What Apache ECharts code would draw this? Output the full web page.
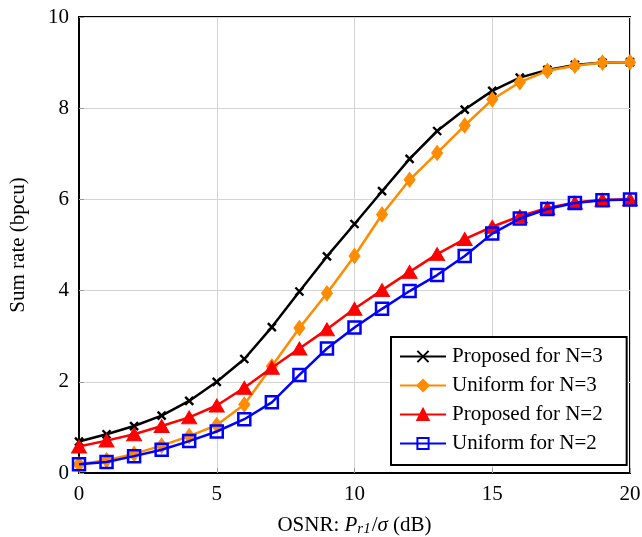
<!DOCTYPE html>
<html><head><meta charset="utf-8">
<script src="https://cdn.jsdelivr.net/npm/echarts@6/dist/echarts.min.js"></script>
<style>html,body{margin:0;padding:0;background:#fff}#c{width:642px;height:537px}</style>
</head><body><div id="c"></div>
<script>
const xVals = [0,1,2,3,4,5,6,7,8,9,10,11,12,13,14,15,16,17,18,19,20];
const proposedN3 = [0.69,0.85,1.03,1.26,1.58,2.0,2.5,3.2,3.98,4.75,5.46,6.18,6.89,7.5,7.97,8.38,8.67,8.84,8.95,9.0,9.01];
const uniformN3 = [0.19,0.28,0.42,0.6,0.81,1.05,1.5,2.34,3.18,3.94,4.76,5.67,6.43,7.02,7.62,8.19,8.57,8.82,8.93,9.0,9.01];
const proposedN2 = [0.58,0.71,0.85,1.03,1.22,1.48,1.87,2.31,2.73,3.15,3.6,4.01,4.41,4.8,5.13,5.4,5.63,5.81,5.93,5.99,6.0];
const uniformN2 = [0.19,0.24,0.37,0.51,0.7,0.91,1.18,1.55,2.15,2.73,3.19,3.6,3.99,4.34,4.76,5.25,5.58,5.79,5.92,5.98,6.0];
const seriesNames = ['Proposed for N=3','Uniform for N=3','Proposed for N=2','Uniform for N=2'];

const FONT = 'Liberation Serif';
const FS = 21;
const pair = arr => xVals.map((x,i)=>[x,arr[i]]);
const chart = echarts.init(document.getElementById('c'), null, {renderer:'canvas'});
chart.setOption({
  animation:false,
  backgroundColor:'#fff',
  grid:{left:79,right:12,top:17,bottom:64,containLabel:false,outerBoundsMode:'none',
    show:true,borderColor:'#000',borderWidth:2,backgroundColor:'transparent'},
  xAxis:{type:'value',min:0,max:20,interval:5,
    axisLine:{show:true,onZero:false,lineStyle:{color:'#000',width:2}},
    axisTick:{show:true,inside:true,length:5,lineStyle:{color:'#999'}},
    splitLine:{show:true,lineStyle:{color:'#d4d4d4',width:1}},
    axisLabel:{color:'#000',fontFamily:FONT,fontSize:FS,margin:11},
    name:'{n|OSNR: }{i|P}{s|r1}{n|/}{i|σ}{n| (dB)}',nameLocation:'middle',nameGap:40,
    nameTextStyle:{rich:{
      n:{fontFamily:FONT,fontSize:FS,color:'#000'},
      i:{fontFamily:FONT,fontSize:FS,fontStyle:'italic',color:'#000'},
      s:{fontFamily:FONT,fontSize:15,fontStyle:'italic',color:'#000',verticalAlign:'bottom',padding:[9,1,0,0]}
    }}
  },
  yAxis:{type:'value',min:0,max:10,interval:2,
    axisLine:{show:true,onZero:false,lineStyle:{color:'#000',width:2}},
    axisTick:{show:true,inside:true,length:5,lineStyle:{color:'#999'}},
    splitLine:{show:true,lineStyle:{color:'#d4d4d4',width:1}},
    axisLabel:{color:'#000',fontFamily:FONT,fontSize:FS,margin:10},
    name:'Sum rate (bpcu)',nameLocation:'middle',nameGap:50,nameRotate:90,
    nameTextStyle:{fontFamily:FONT,fontSize:FS,color:'#000'}
  },
  legend:{orient:'vertical',left:391,top:337,
    backgroundColor:'#fff',borderColor:'#000',borderWidth:2,borderRadius:0,
    padding:[9,24,11,8],itemGap:8,itemWidth:46,itemHeight:14,
    textStyle:{fontFamily:FONT,fontSize:FS,color:'#000',padding:[0,0,0,1]},
    data:seriesNames
  },
  series:[
    {name:seriesNames[0],type:'line',data:pair(proposedN3),color:'#000',
     lineStyle:{color:'#000',width:2.5},symbol:'path://M0,0L10,10M10,0L0,10',symbolSize:8,
     itemStyle:{color:'#000',borderColor:'#000',borderWidth:2.4},z:2},
    {name:seriesNames[1],type:'line',data:pair(uniformN3),color:'#ff8c00',
     lineStyle:{color:'#ff8c00',width:2.5},symbol:'diamond',symbolSize:[11,15],
     itemStyle:{color:'#ff8c00',borderColor:'#ff8c00',borderWidth:1},z:3},
    {name:seriesNames[2],type:'line',data:pair(proposedN2),color:'#ff0000',
     lineStyle:{color:'#ff0000',width:2.5},symbol:'triangle',symbolSize:[15,13],
     itemStyle:{color:'#ff0000',borderColor:'#ff0000',borderWidth:1},z:4},
    {name:seriesNames[3],type:'line',data:pair(uniformN2),color:'#0000ff',
     lineStyle:{color:'#0000ff',width:2.5},symbol:'rect',symbolSize:12,
     itemStyle:{color:'rgba(0,0,0,0)',borderColor:'#0000ff',borderWidth:2.5},z:5}
  ]
});
</script></body></html>
